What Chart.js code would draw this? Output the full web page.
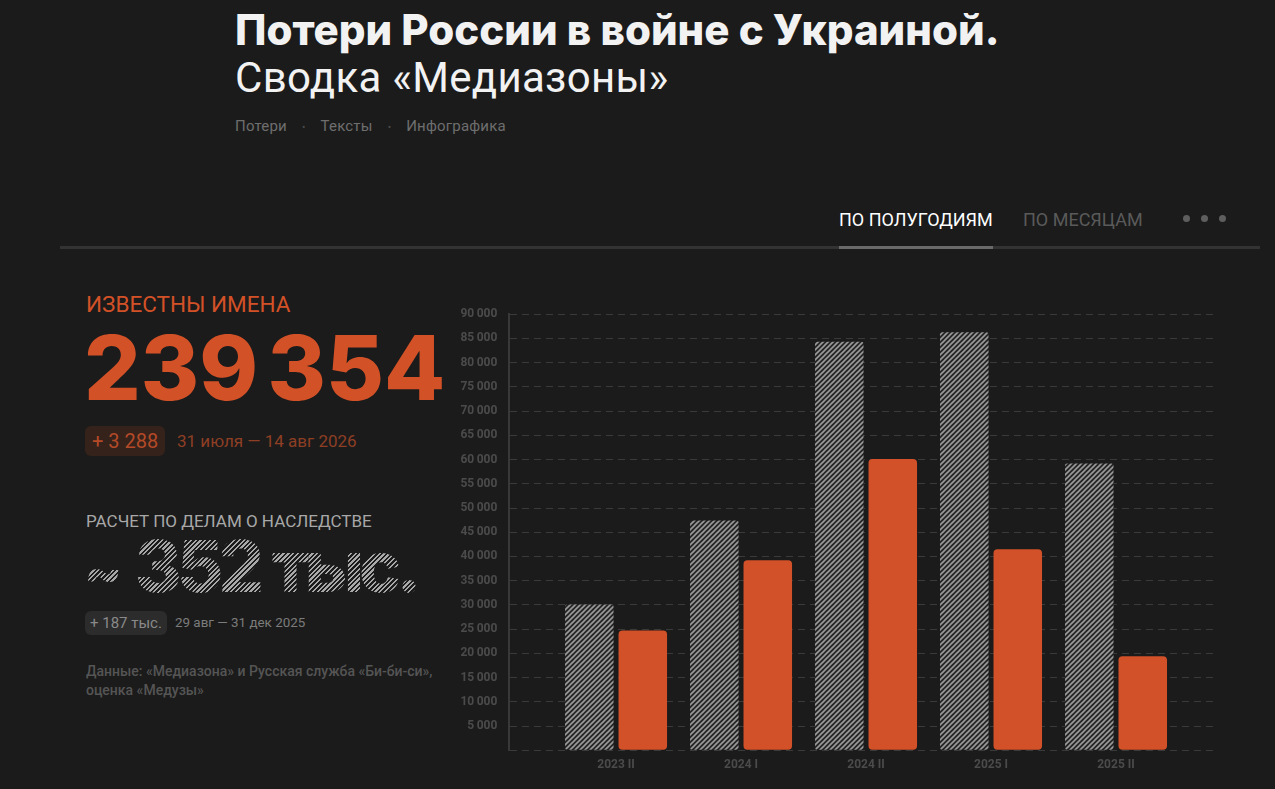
<!DOCTYPE html>
<html lang="ru">
<head>
<meta charset="utf-8">
<title>Потери России в войне с Украиной</title>
<script src="https://cdn.jsdelivr.net/npm/chart.js@4/dist/chart.umd.min.js"></script>
<style>
  html, body { margin: 0; padding: 0; background: #1b1b1b; }
  body { width: 1275px; height: 789px; position: relative; overflow: hidden; font-family: Roboto, "Noto Sans", sans-serif; }
  .abs { position: absolute; white-space: nowrap; }
  #title { left: 235px; top: 5px; font: 800 42px/50px Inter, Roboto, sans-serif; color: #f2f2f2; letter-spacing: 0px; }
  #subtitle { left: 235px; top: 55px; font: 400 42px/46px Roboto, sans-serif; color: #f2f2f2; letter-spacing: 0.3px; }
  #crumbs { left: 235px; top: 116px; font: 400 15px/20px Roboto, sans-serif; color: #6e6e6e; letter-spacing: 0.2px; }
  #crumbs span.dot { display: inline-block; margin: 0 15px; color: #4a4a4a; font-size: 10px; }
  .tab { top: 208px; font: 400 18px/24px Roboto, sans-serif; }
  #tab1 { left: 839px; color: #ffffff; }
  #tab2 { left: 1023px; color: #5a5a5a; }
  .dots { top: 215px; width: 7px; height: 7px; border-radius: 50%; background: #5e5e5e; }
  #rule { left: 60px; top: 246px; width: 1200px; height: 3px; background: #333333; }
  #ruleActive { left: 839px; top: 246px; width: 154px; height: 3px; background: #6a6a6a; }
  #knownLabel { left: 86px; top: 290px; font: 400 22.5px/28px Roboto, sans-serif; color: #d35127; }
  #knownNum { left: 84px; top: 318px; font: 800 89px/100px Inter, sans-serif; color: #d35127; letter-spacing: 0px; word-spacing: -10px; }
  .badge { border-radius: 6px; padding: 0 7px; }
  #knownBadge { left: 85px; top: 426px; height: 30px; font: 400 20px/30px Roboto, sans-serif; color: #b44a28; background: #35221b; }
  #knownDate { left: 177px; top: 429px; font: 400 17px/24px Roboto, sans-serif; color: #8e3f24; }
  #estLabel { left: 86px; top: 509px; font: 400 17px/24px Roboto, sans-serif; color: #a8a8a8; }
  #estNum { left: 84px; top: 526px; font: 800 71px/80px Inter, sans-serif; letter-spacing: -4.8px; word-spacing: 2px;
            background: repeating-linear-gradient(135deg, #a8a8a8 0 1.6px, transparent 1.6px 3.4px);
            -webkit-background-clip: text; background-clip: text; color: transparent; }
  #estNum .tl { font-size: 56px; letter-spacing: 0; }
  #estBadge { left: 85px; top: 611px; height: 24px; font: 400 15px/24px Roboto, sans-serif; color: #8a8a8a; background: #2c2c2c; padding: 0 5px; }
  #estDate { left: 175px; top: 612px; font: 400 13.4px/22px Roboto, sans-serif; color: #7c7c7c; }
  #source { left: 86px; top: 662px; font: 500 14px/19px Roboto, sans-serif; color: #555555; white-space: normal; width: 380px; }
  #chartBox { position: absolute; left: 440px; top: 295px; width: 800px; height: 485px; }
</style>
</head>
<body>
  <div class="abs" id="title">Потери России в войне с Украиной.</div>
  <div class="abs" id="subtitle">Сводка «Медиазоны»</div>
  <div class="abs" id="crumbs">Потери<span class="dot">•</span>Тексты<span class="dot">•</span>Инфографика</div>

  <div class="abs tab" id="tab1">ПО ПОЛУГОДИЯМ</div>
  <div class="abs tab" id="tab2">ПО МЕСЯЦАМ</div>
  <div class="abs dots" style="left:1183px"></div>
  <div class="abs dots" style="left:1201px"></div>
  <div class="abs dots" style="left:1219px"></div>
  <div class="abs" id="rule"></div>
  <div class="abs" id="ruleActive"></div>

  <div class="abs" id="knownLabel">ИЗВЕСТНЫ ИМЕНА</div>
  <div class="abs" id="knownNum">239 354</div>
  <div class="abs badge" id="knownBadge">+ 3 288</div>
  <div class="abs" id="knownDate">31 июля — 14 авг 2026</div>

  <div class="abs" id="estLabel">РАСЧЕТ ПО ДЕЛАМ О НАСЛЕДСТВЕ</div>
  <div class="abs" id="estNum"><span class="tl">~</span> 352 тыс.</div>
  <div class="abs badge" id="estBadge">+ 187 тыс.</div>
  <div class="abs" id="estDate">29 авг — 31 дек 2025</div>
  <div class="abs" id="source">Данные: «Медиазона» и Русская служба «Би-би-си»,<br>оценка «Медузы»</div>

  <div id="chartBox"><canvas id="lossChart"></canvas></div>

<script>
// полугодия и значения
const periods        = ['2023 II', '2024 I', '2024 II', '2025 I', '2025 II'];
const estimateValues = [30100, 47400, 84300, 86300, 59200];   // оценка по наследственным делам (штриховка)
const knownValues    = [24700, 39200, 60100, 41500, 19400];   // известны имена
const yMax  = 90000;
const yStep = 5000;

// штриховка для серых столбцов
function hatch() {
  const c = document.createElement('canvas');
  c.width = 5; c.height = 5;
  const g = c.getContext('2d');
  g.fillStyle = '#262626';
  g.fillRect(0, 0, 5, 5);
  g.strokeStyle = '#9a9a9a';
  g.lineWidth = 1.6;
  g.beginPath();
  g.moveTo(-1, 6); g.lineTo(6, -1);
  g.moveTo(-1, 1); g.lineTo(1, -1);
  g.moveTo(4, 6); g.lineTo(6, 4);
  g.stroke();
  return g.createPattern(c, 'repeat');
}

const fmt = v => String(v).replace(/\B(?=(\d{3})+(?!\d))/g, '\u2009');

document.addEventListener('DOMContentLoaded', () => {
  const ctx = document.getElementById('lossChart').getContext('2d');
  new Chart(ctx, {
    type: 'bar',
    data: {
      datasets: [
        {
          label: 'Расчет по делам о наследстве',
          data: periods.map((p, i) => ({ x: i, y: estimateValues[i] })),
          backgroundColor: hatch(),
          borderRadius: 2,
          borderSkipped: false
        },
        {
          label: 'Известны имена',
          data: periods.map((p, i) => ({ x: i, y: knownValues[i] })),
          backgroundColor: '#d25128',
          borderRadius: 4,
          borderSkipped: false
        }
      ]
    },
    options: {
      responsive: true,
      maintainAspectRatio: false,
      animation: false,
      devicePixelRatio: 1,
      categoryPercentage: 0.856,
      barPercentage: 0.907,
      layout: { padding: { top: 8, right: 24, left: 0, bottom: 0 } },
      plugins: { legend: { display: false }, tooltip: { enabled: false } },
      scales: {
        x: {
          type: 'linear',
          offset: false,
          min: -0.854,
          max: 4.8,
          grid: { display: false, drawTicks: false, offset: false },
          border: { display: false },
          afterFit: s => { s.height = 29.7; },
          ticks: {
            stepSize: 1,
            includeBounds: false,
            autoSkip: false,
            maxRotation: 0,
            padding: 7,
            color: '#4b4b4b',
            font: { family: 'Roboto', size: 12, weight: 'bold' },
            callback: v => Number.isInteger(v) ? (periods[v] || '') : ''
          }
        },
        y: {
          min: 0,
          max: yMax,
          afterFit: s => { s.width = 69.3; },
          grid: { color: '#3a3a3a', lineWidth: 1, drawTicks: false },
          border: { display: true, color: '#383838', width: 2, dash: [7, 5] },
          ticks: {
            stepSize: yStep,
            padding: 12,
            color: '#4b4b4b',
            font: { family: 'Roboto', size: 12, weight: 'bold' },
            callback: v => v === 0 ? '' : fmt(v)
          }
        }
      }
    }
  });
});
</script>
</body>
</html>
